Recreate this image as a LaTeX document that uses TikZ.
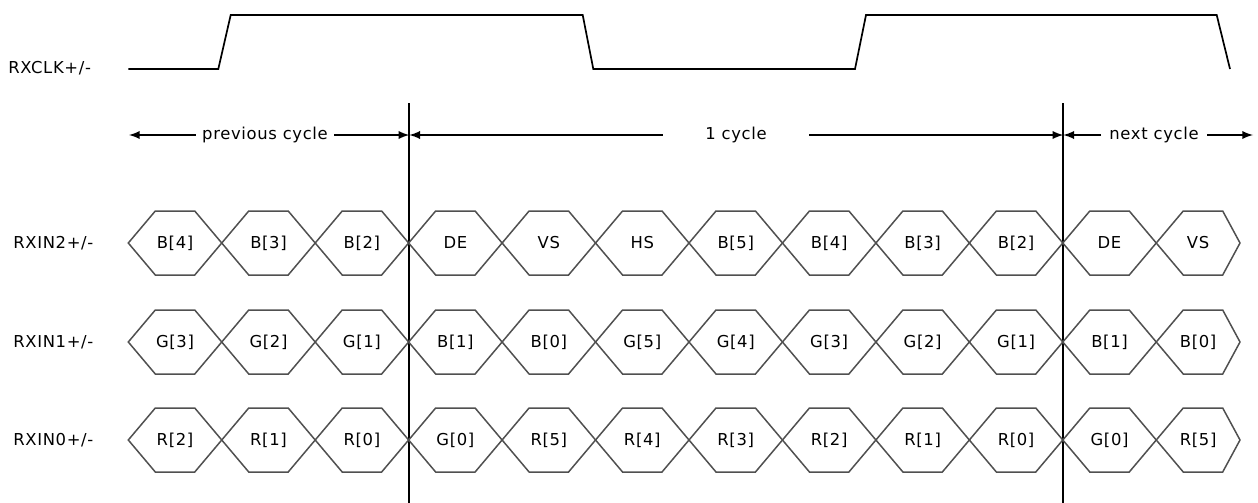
\documentclass[tikz,border=0pt]{standalone}
\usepackage{fontspec}
\newfontfamily\sigfont[LetterSpace=4]{DejaVu Sans}
\definecolor{hexgray}{RGB}{80,80,80}

\begin{document}
\begin{tikzpicture}[x=0.5pt,y=-0.5pt,>=latex,
  every node/.style={font=\sigfont\fontsize{8.2}{10}\selectfont},
  sig/.style={anchor=west,inner sep=0pt},
  wave/.style={line width=0.85pt},
  cell/.style={draw=hexgray,line width=0.75pt}]
  \useasboundingbox (0,0) rectangle (1258,503);

  \node [sig] (clk) at (8,68) {RXCLK+/-};
  \node [sig] (in2) at (13,243) {RXIN2+/-};
  \node [sig] (in1) at (13,342) {RXIN1+/-};
  \node [sig] (in0) at (13,440) {RXIN0+/-};

  \draw [wave] (128.3,69)--(218.3,69)--(230.7,15)--(582.7,15)--(593.3,69)
    --(855,69)--(866,15)--(1216.7,15)--(1230,69);

  \coordinate (start) at (129,135);
  \coordinate (m1) at (409.3,135);
  \coordinate (m2) at (1063.3,135);
  \coordinate (stop) at (1253,135);
  \draw [wave] (409.3,103)--(409.3,503);
  \draw [wave] (1063.3,103)--(1063.3,503);

  \node [inner xsep=3pt] (prev) at (265,135) {previous cycle};
  \node [inner xsep=21pt] (one) at (736,135) {1 cycle};
  \node [inner xsep=4pt] (next) at (1154,135) {next cycle};
  \draw [wave,->] (prev.west)--(start);
  \draw [wave,->] (prev.east)--(m1);
  \draw [wave,->] (one.west)--(m1);
  \draw [wave,->] (one.east)--(m2);
  \draw [wave,->] (next.west)--(m2);
  \draw [wave,->] (next.east)--(stop);

  \foreach \yc/\lbls in {243/{B[4],B[3],B[2],DE,VS,HS,B[5],B[4],B[3],B[2],DE,VS},
                         342/{G[3],G[2],G[1],B[1],B[0],G[5],G[4],G[3],G[2],G[1],B[1],B[0]},
                         440/{R[2],R[1],R[0],G[0],R[5],R[4],R[3],R[2],R[1],R[0],G[0],R[5]}}{
    \foreach \t [count=\k from 0] in \lbls {
      \pgfmathsetmacro\xl{128.3+93.45*\k}
      \pgfmathsetmacro\xf{\xl+93.45-27}
      \pgfmathsetmacro\xr{\k==11 ? 1240 : \xl+93.45}
      \draw [cell] (\xl,\yc)--(\xl+27,\yc-32)--(\xf,\yc-32)--(\xr,\yc)
        --(\xf,\yc+32)--(\xl+27,\yc+32)--cycle;
      \node (h-\yc-\k) at ({(\xl+\xr)/2},\yc) {\t};
    }
  }
\end{tikzpicture}
\end{document}
